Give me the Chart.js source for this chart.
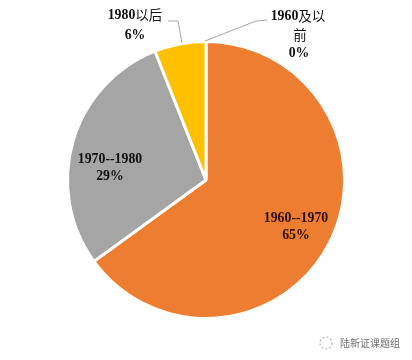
<!DOCTYPE html>
<html>
<head>
<meta charset="utf-8">
<style>
  html, body { margin: 0; padding: 0; background: #fff; }
  #box { position: relative; width: 412px; height: 360px; }
</style>
<script src="https://cdn.jsdelivr.net/npm/chart.js@4"></script>
</head>
<body>
<div id="box"><canvas id="pie"></canvas></div>
<script>
const categories = ['1960及以前', '1960--1970', '1970--1980', '1980以后'];
const shares = [0, 65, 29, 6];
const colors = ['#5B9BD5', '#ED7D31', '#A5A5A5', '#FFC000'];
const watermark = '陆新证课题组';

const latin = 'bold 13.8px "Liberation Serif"';
const cjk = '13.5px "Noto Sans CJK SC"';

// writes one line, digits in serif bold and chinese in the thin sans
function mixedText(ctx, text, cx, y) {
  const parts = text.match(/[\x00-\x7f]+|[^\x00-\x7f]+/g);
  const fontOf = (p) => (/^[\x00-\x7f]/.test(p) ? latin : cjk);
  let width = 0;
  parts.forEach((p) => {
    ctx.font = fontOf(p);
    width += ctx.measureText(p).width;
  });
  let x = cx - width / 2;
  ctx.textAlign = 'left';
  ctx.textBaseline = 'middle';
  parts.forEach((p) => {
    ctx.font = fontOf(p);
    ctx.fillText(p, x, y);
    x += ctx.measureText(p).width;
  });
}

const pieLabels = {
  id: 'pieLabels',
  afterDraw(chart) {
    const ctx = chart.ctx;
    ctx.save();

    // leader lines for the two small slices
    ctx.strokeStyle = '#a6a6a6';
    ctx.lineWidth = 1;
    ctx.beginPath();
    ctx.moveTo(168, 21);
    ctx.lineTo(178, 21);
    ctx.lineTo(182, 43);
    ctx.moveTo(267, 20);
    ctx.lineTo(256, 21);
    ctx.lineTo(205, 41);
    ctx.stroke();

    ctx.fillStyle = '#111';
    mixedText(ctx, categories[3], 135, 15);
    mixedText(ctx, shares[3] + '%', 135, 35);

    mixedText(ctx, '1960及以', 298, 16);
    mixedText(ctx, '前', 300, 35);
    mixedText(ctx, shares[0] + '%', 299, 53);

    mixedText(ctx, categories[2], 110, 159);
    mixedText(ctx, shares[2] + '%', 110, 176);

    ctx.fillStyle = '#2e0f03';
    mixedText(ctx, categories[1], 296, 218);
    mixedText(ctx, shares[1] + '%', 296, 235);

    // watermark, bottom right
    ctx.fillStyle = '#6e6e6e';
    ctx.font = '10px "Noto Sans CJK SC"';
    ctx.textAlign = 'left';
    ctx.fillText(watermark, 340, 343);
    ctx.strokeStyle = '#c4c4c4';
    ctx.lineWidth = 1.5;
    ctx.setLineDash([2, 2]);
    ctx.beginPath();
    ctx.arc(326, 343, 6, 0, Math.PI * 2);
    ctx.stroke();
    ctx.restore();
  },
};

new Chart(document.getElementById('pie'), {
  type: 'pie',
  data: {
    labels: categories,
    datasets: [
      {
        data: shares,
        backgroundColor: colors,
        borderColor: '#fff',
        borderWidth: 3,
      },
    ],
  },
  options: {
    responsive: true,
    maintainAspectRatio: false,
    animation: false,
    layout: { padding: { top: 40, bottom: 40 } },
    plugins: {
      legend: { display: false },
      tooltip: { enabled: false },
    },
  },
  plugins: [pieLabels],
});
</script>
</body>
</html>
